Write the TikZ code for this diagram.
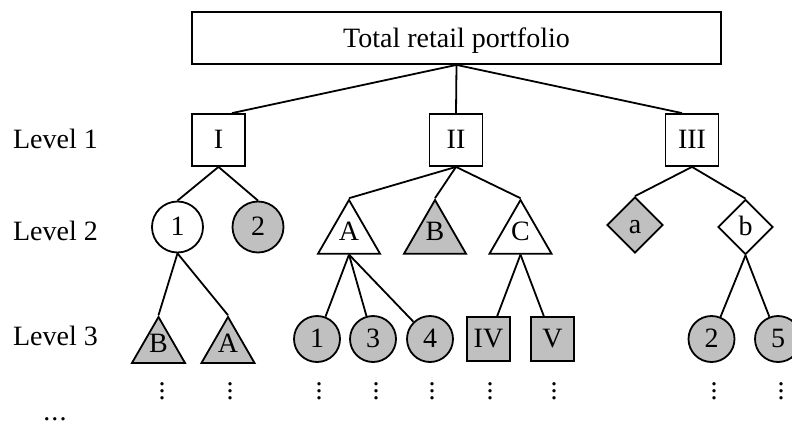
\documentclass[tikz,border=0pt]{standalone}
\usepackage{fontspec}
\setmainfont{Liberation Serif}
\usetikzlibrary{shapes.geometric}
\definecolor{shade}{RGB}{192,192,192}
% three stacked dots for the "continues below" marks
\newcommand\stackdots{\vbox{\baselineskip=7pt\lineskiplimit=0pt\hbox{.}\hbox{.}\hbox{.}}}

\begin{document}
\begin{tikzpicture}[x=1pt, y=-1pt, line width=1.8pt,
  every node/.style={font=\fontsize{28}{33}\selectfont, inner sep=0pt},
  lettered/.style={text height=17.5pt, text depth=1.5pt},
  rootbox/.style={draw, rectangle, minimum width=529pt, minimum height=52pt,
    text height=19pt, text depth=1pt},
  segbox/.style={draw, rectangle, lettered, minimum width=53pt, minimum height=52pt},
  smallbox/.style={draw, rectangle, lettered, fill=shade, minimum width=43pt, minimum height=44pt},
  bigcirc/.style={draw, circle, lettered, minimum size=51pt},
  smallcirc/.style={draw, circle, lettered, fill=shade, minimum size=46pt},
  tri/.style={draw, regular polygon, regular polygon sides=3, text height=14pt, text depth=4pt},
  bigtri/.style={tri, minimum size=71.6pt},
  smalltri/.style={tri, fill=shade, minimum size=61.2pt},
  rhomb/.style={draw, diamond, lettered, minimum width=56pt, minimum height=56pt},
  filled/.style={fill=shade},
  levellabel/.style={anchor=base},
  more/.style={font=\fontsize{28}{7}\selectfont},
]
\useasboundingbox (0,0) rectangle (792,423);
\clip (0,0) rectangle (792,423);

% root
\node[rootbox] (root) at (456.5,38) {Total retail portfolio};

% level 1
\node[segbox] (I)   at (218.5,140) {I};
\node[segbox] (II)  at (456,140)   {II};
\node[segbox] (III) at (692,140)   {III};

% level 2
\node[bigcirc] (c1) at (177.5,227) {1};
\node[bigcirc, filled] (c2) at (258,227) {2};
\node[bigtri] (tA) at (349,235.8) {A};
\node[bigtri, filled] (tB) at (435,235.8) {B};
\node[bigtri] (tC) at (520.5,235.8) {C};
\node[rhomb, filled] (da) at (635,225) {a};
\node[rhomb, minimum width=55pt, minimum height=55pt] (db) at (745.5,227) {b};

% level 3
\node[smalltri] (lB) at (158.5,347.6) {B};
\node[smalltri] (lA) at (228,347.6) {A};
\node[smallcirc] (n1) at (317,339) {1};
\node[smallcirc] (n3) at (373,339) {3};
\node[smallcirc] (n4) at (430,339) {4};
\node[smallbox] (sIV) at (488.5,339) {IV};
\node[smallbox] (sV)  at (552.5,339) {V};
\node[smallcirc] (m2) at (711.5,339) {2};
\node[smallcirc] (m5) at (778,339) {5};

% continuation marks
\foreach \x [count=\i] in {162,230,319,376,432,490,554,714,781}
  \node[more] (v\i) at (\x,391) {\stackdots};
\node[levellabel] (etc) at (55,420.5) {.\kern1.2pt.\kern1.2pt.};

% level labels
\node[levellabel] (L1) at (55.5,148) {Level 1};
\node[levellabel] (L2) at (55.5,240) {Level 2};
\node[levellabel] (L3) at (55.5,345) {Level 3};

% connectors
\draw (root.south) -- ([xshift=13.5pt]I.north);
\draw (root.south) -- (II.north);
\draw (root.south) -- ([xshift=-10pt]III.north);

\draw (I.south) -- (c1.north);
\draw (I.south) -- (c2.north);
\draw (II.south) -- (tA.corner 1);
\draw (II.south) -- (tB.corner 1);
\draw (II.south) -- (tC.corner 1);
\draw (III.south) -- (da.north);
\draw (III.south) -- (db.north);

\draw (c1.south) -- (lB.corner 1);
\draw (c1.south) -- (lA.corner 1);
\draw (tA.side 2) -- (n1);
\draw (tA.side 2) -- (n3);
\draw (tA.side 2) -- (n4);
\draw (tC.side 2) -- (sIV);
\draw (tC.side 2) -- (sV);
\draw (db.south) -- (m2);
\draw (db.south) -- (m5);
\end{tikzpicture}
\end{document}
